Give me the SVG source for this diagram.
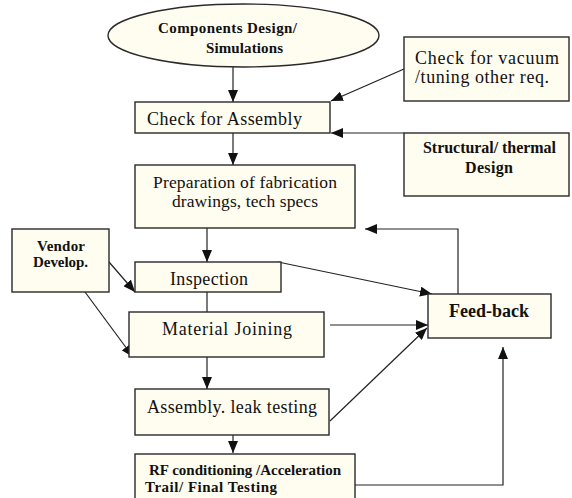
<svg xmlns="http://www.w3.org/2000/svg" width="572" height="498" viewBox="0 0 572 498">
<style>
.box{fill:#FFFCF0;stroke:#2a2a2a;stroke-width:1.4}
.t{font-family:"Liberation Serif","Times New Roman",serif;fill:#111}
.b{font-weight:bold}
.c{fill:none;stroke:#222;stroke-width:1.2}
</style>
<defs>
<marker id="ah" markerUnits="userSpaceOnUse" markerWidth="12" markerHeight="10" refX="12" refY="5" orient="auto">
<path d="M0,0 L12,5 L0,10 z" fill="#111"/>
</marker>
</defs>
<rect width="572" height="498" fill="#fff"/>
<g id="connectors">
<line class="c" x1="233" y1="67" x2="233" y2="102" marker-end="url(#ah)"/>
<line class="c" x1="233" y1="133" x2="233" y2="165" marker-end="url(#ah)"/>
<line class="c" x1="207" y1="228" x2="207" y2="262" marker-end="url(#ah)"/>
<line class="c" x1="207" y1="292" x2="207" y2="324" marker-end="url(#ah)"/>
<line class="c" x1="207" y1="357" x2="207" y2="389" marker-end="url(#ah)"/>
<line class="c" x1="233" y1="421" x2="233" y2="453" marker-end="url(#ah)"/>
<line class="c" x1="404" y1="69" x2="331" y2="101" marker-end="url(#ah)"/>
<line class="c" x1="404" y1="133" x2="331" y2="133" marker-end="url(#ah)"/>
<line class="c" x1="109" y1="262" x2="135" y2="292" marker-end="url(#ah)"/>
<line class="c" x1="85" y1="292" x2="133" y2="357" marker-end="url(#ah)"/>
<line class="c" x1="278" y1="262" x2="432" y2="294" marker-end="url(#ah)"/>
<line class="c" x1="330" y1="325" x2="428" y2="325" marker-end="url(#ah)"/>
<line class="c" x1="330" y1="421" x2="427" y2="328" marker-end="url(#ah)"/>
<polyline class="c" points="355,485 503,485 503,347" marker-end="url(#ah)"/>
<polyline class="c" points="458,294 458,229 365,229" marker-end="url(#ah)"/>
</g>
<g id="components">
<ellipse class="box" cx="243.5" cy="35.5" rx="135.5" ry="31.5"/>
<text class="t b" x="158" y="33" font-size="15" textLength="139" lengthAdjust="spacing">Components Design/</text>
<text class="t b" x="206" y="53" font-size="15" textLength="77" lengthAdjust="spacing">Simulations</text>
</g>
<g id="check-assembly">
<rect class="box" x="135" y="102" width="195" height="31"/>
<text class="t" x="147" y="125" font-size="18" textLength="155" lengthAdjust="spacing">Check for Assembly</text>
</g>
<g id="check-vacuum">
<rect class="box" x="404" y="37" width="165" height="64"/>
<text class="t" x="415" y="64" font-size="18" textLength="144" lengthAdjust="spacing">Check for vacuum</text>
<text class="t" x="415" y="83" font-size="18" textLength="134" lengthAdjust="spacing">/tuning other req.</text>
</g>
<g id="structural">
<rect class="box" x="404" y="133" width="165" height="63"/>
<text class="t b" x="423" y="153" font-size="16" textLength="133" lengthAdjust="spacing">Structural/ thermal</text>
<text class="t b" x="465" y="173" font-size="16" textLength="48" lengthAdjust="spacing">Design</text>
</g>
<g id="preparation">
<rect class="box" x="135" y="165" width="220" height="63"/>
<text class="t" x="153" y="188" font-size="17.5" textLength="184" lengthAdjust="spacing">Preparation of fabrication</text>
<text class="t" x="172" y="207" font-size="17.5" textLength="146" lengthAdjust="spacing">drawings, tech specs</text>
</g>
<g id="vendor">
<rect class="box" x="12" y="229" width="97" height="63"/>
<text class="t b" x="37" y="251" font-size="15" textLength="48" lengthAdjust="spacing">Vendor</text>
<text class="t b" x="33" y="267" font-size="15" textLength="55" lengthAdjust="spacing">Develop.</text>
</g>
<g id="inspection">
<rect class="box" x="135" y="262" width="146" height="30"/>
<text class="t" x="170" y="285" font-size="18" textLength="78" lengthAdjust="spacing">Inspection</text>
</g>
<g id="material-joining">
<rect class="box" x="129" y="312" width="195" height="45"/>
<text class="t" x="162" y="335" font-size="18" textLength="130" lengthAdjust="spacing">Material Joining</text>
</g>
<g id="assembly-leak">
<rect class="box" x="135" y="389" width="194" height="46"/>
<text class="t" x="147" y="413" font-size="18" textLength="170" lengthAdjust="spacing">Assembly. leak testing</text>
</g>
<g id="rf-conditioning">
<rect class="box" x="135" y="454" width="220" height="50"/>
<text class="t b" x="149" y="475" font-size="15" textLength="192" lengthAdjust="spacing">RF conditioning /Acceleration</text>
<text class="t b" x="145" y="492" font-size="15" textLength="132" lengthAdjust="spacing">Trail/ Final Testing</text>
</g>
<g id="feedback">
<rect class="box" x="428" y="294" width="123" height="44"/>
<text class="t b" x="449" y="317" font-size="18" textLength="80" lengthAdjust="spacing">Feed-back</text>
</g>
</svg>
